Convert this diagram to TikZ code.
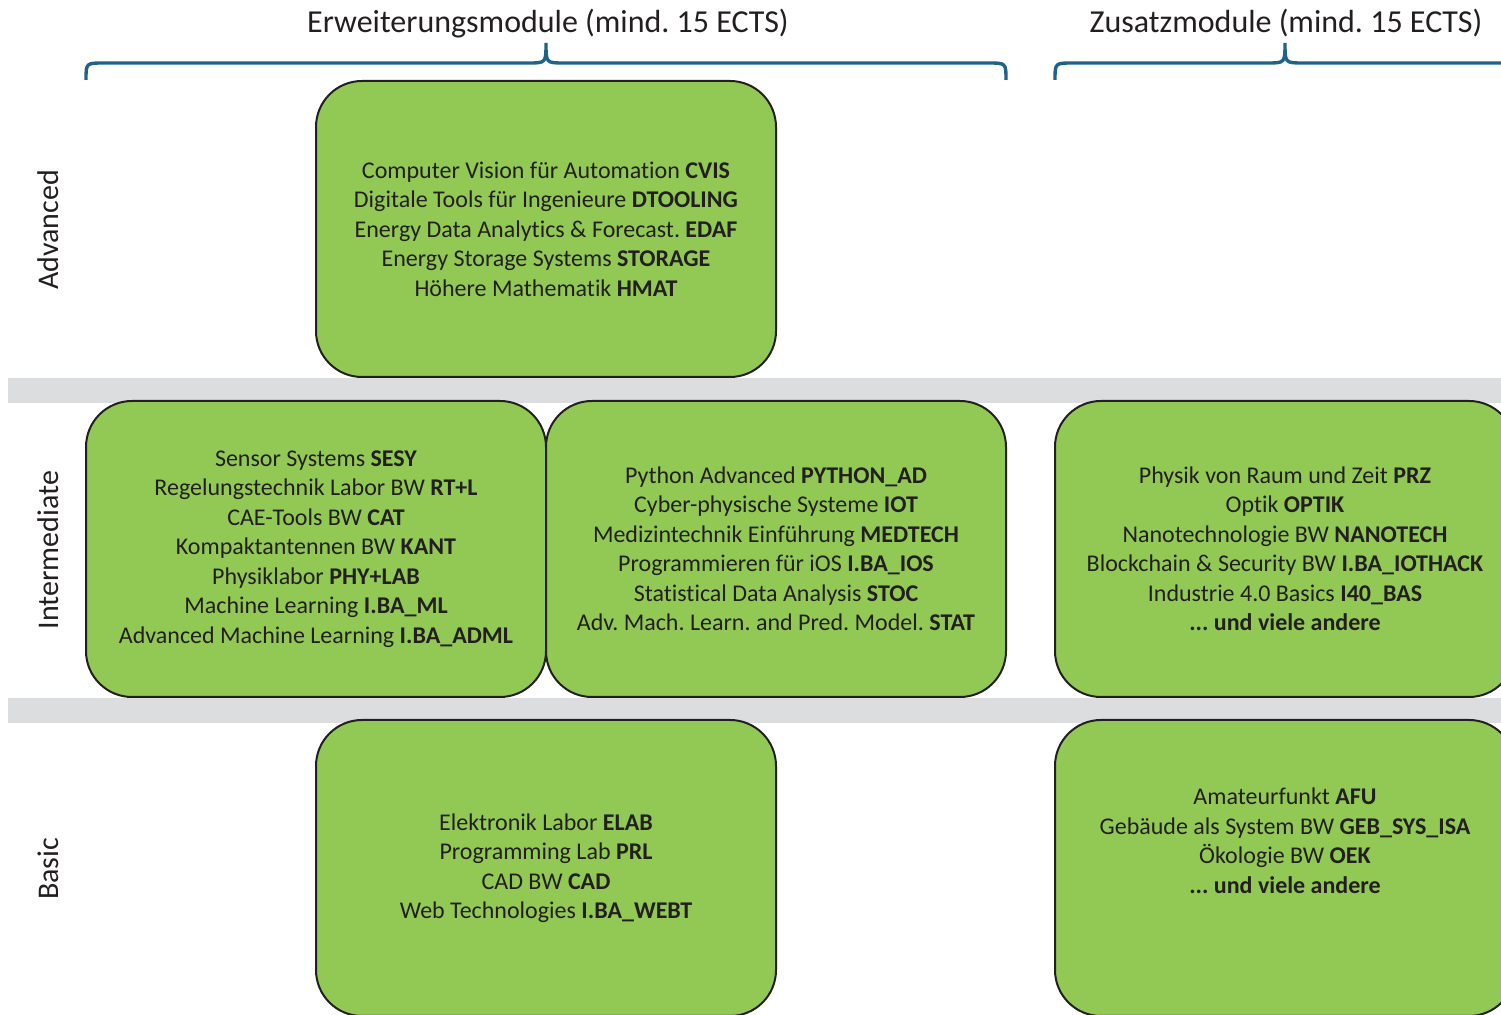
\documentclass[tikz,border=0pt]{standalone}
\usepackage{fontspec}
\setmainfont{Carlito}[Ligatures={NoCommon}]
\definecolor{boxgreen}{RGB}{146,201,85}
\definecolor{bandgray}{RGB}{220,221,223}
\definecolor{bracecol}{RGB}{31,100,136}
\definecolor{txt}{RGB}{35,31,32}
\begin{document}
\frenchspacing
\begin{tikzpicture}[x=0.5pt,y=-0.5pt,
  modbox/.style={draw=txt,line width=1pt,fill=boxgreen,rounded corners=23pt,
    minimum width=230pt,minimum height=148pt,align=center,text=txt,
    font=\fontsize{12}{14.75}\selectfont,inner sep=0pt},
  bracepath/.style={draw=bracecol,line width=1.7pt},
  heading/.style={text=txt,font=\fontsize{16}{18}\selectfont,inner sep=0pt},
  level/.style={text=txt,font=\fontsize{15}{17}\selectfont,rotate=90,inner sep=0pt}]
\useasboundingbox (0,0) rectangle (1501,1015);
\clip (0,0) rectangle (1501,1015);
% bands
\fill[bandgray] (8,378) rectangle (1501,403);
\fill[bandgray] (8,698) rectangle (1501,723);
% headings
\node[heading] (h1) at (548,23.5) {Erweiterungsmodule (mind. 15 ECTS)};
\node[heading] (h2) at (1286,23.5) {Zusatzmodule (mind. 15 ECTS)};
% braces
\draw[bracepath] (86,80) .. controls (86,63) .. (104,63) -- (528,63) .. controls (546,63) .. (546,43)
  .. controls (546,63) .. (564,63) -- (988,63) .. controls (1006,63) .. (1006,80);
\draw[bracepath] (1055,80) .. controls (1055,63) .. (1073,63) -- (1267,63) .. controls (1285,63) .. (1285,43)
  .. controls (1285,63) .. (1303,63) -- (1497,63) .. controls (1515,63) .. (1515,80);
% level labels
\node[level] (la) at (48,230) {Advanced};
\node[level] (li) at (48,550) {Intermediate};
\node[level] (lb) at (48,869) {Basic};
% boxes
\node[modbox] (adv) at (546,229) {Computer Vision für Automation \textbf{CVIS}\\
Digitale Tools für Ingenieure \textbf{DTOOLING}\\
Energy Data Analytics \& Forecast. \textbf{EDAF}\\
Energy Storage Systems \textbf{STORAGE}\\
Höhere Mathematik \textbf{HMAT}};
\node[modbox] (int1) at (316,549) {Sensor Systems \textbf{SESY}\\
Regelungstechnik Labor BW \textbf{RT+L}\\
CAE-Tools BW \textbf{CAT}\\
Kompaktantennen BW \textbf{KANT}\\
Physiklabor \textbf{PHY+LAB}\\
Machine Learning \textbf{I.BA\_ML}\\
Advanced Machine Learning \textbf{I.BA\_ADML}};
\node[modbox] (int2) at (776,549) {Python Advanced \textbf{PYTHON\_AD}\\
Cyber-physische Systeme \textbf{IOT}\\
Medizintechnik Einführung \textbf{MEDTECH}\\
Programmieren für iOS \textbf{I.BA\_IOS}\\
Statistical Data Analysis \textbf{STOC}\\
Adv. Mach. Learn. and Pred. Model. \textbf{STAT}};
\node[modbox] (int3) at (1285,549) {Physik von Raum und Zeit \textbf{PRZ}\\
Optik \textbf{OPTIK}\\
Nanotechnologie BW \textbf{NANOTECH}\\
Blockchain \& Security BW \textbf{I.BA\_IOTHACK}\\
Industrie 4.0 Basics \textbf{I40\_BAS}\\
\textbf{... und viele andere}};
\node[modbox] (bas1) at (546,868) {Elektronik Labor \textbf{ELAB}\\
Programming Lab \textbf{PRL}\\
CAD BW \textbf{CAD}\\
Web Technologies \textbf{I.BA\_WEBT}};
\node[modbox] (bas2) at (1285,868) {};
\node[align=center,text=txt,font=\fontsize{12}{14.75}\selectfont,inner sep=0pt] (bas2t) at (1285,841) {Amateurfunkt \textbf{AFU}\\
Gebäude als System BW \textbf{GEB\_SYS\_ISA}\\
Ökologie BW \textbf{OEK}\\
\textbf{... und viele andere}};
\end{tikzpicture}
\end{document}
